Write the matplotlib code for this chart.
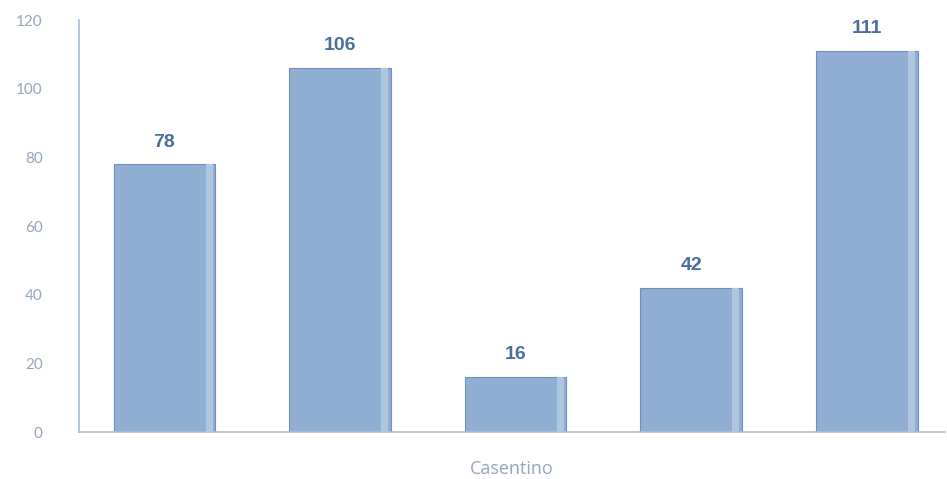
import matplotlib.pyplot as plt
import numpy as np

# dati
categories = ["a", "b", "c", "d", "e"]
values = [78, 106, 16, 42, 111]
yticks = [0, 20, 40, 60, 80, 100, 120]
xlabel = "Casentino"

bar_color = "#91afd2"
edge_dark = "#6f8fb8"
light_strip = "#afc6e0"
axis_color = "#a9bcd3"
tick_color = "#97a6bd"
label_color = "#4c6e9c"

fig = plt.figure(figsize=(9.47, 4.79), dpi=100)
ax = fig.add_axes([0.0834, 0.098, 0.9146, 0.860])

x = np.arange(len(categories))
width = 0.58

ax.bar(x, values, width=width, color=bar_color, edgecolor=edge_dark, linewidth=0.8, zorder=2)
# striscia chiara sul lato destro delle barre
ax.bar(x + width / 2 - 0.035, values, width=0.04, color=light_strip, linewidth=0, zorder=3)

for xi, v in zip(x, values):
    ax.text(xi, v + 4, str(v), ha="center", va="bottom", fontsize=14, fontweight="bold",
            color=label_color, family="Liberation Sans")

ax.set_xlim(-0.487, 4.447)
ax.set_ylim(0, 120)
ax.set_yticks(yticks)
ax.set_yticklabels([str(t) for t in yticks], fontsize=11, color=tick_color, family="Lato")
ax.set_xticks([])
ax.set_xlabel(xlabel, fontsize=13, color=tick_color, family="Open Sans", labelpad=20)

ax.tick_params(axis="y", length=0, pad=26)
for side in ["top", "right"]:
    ax.spines[side].set_visible(False)
ax.spines["left"].set_color(axis_color)
ax.spines["bottom"].set_color(axis_color)
ax.spines["left"].set_linewidth(1.2)
ax.spines["bottom"].set_linewidth(1.2)

fig.savefig("out.png", dpi=100)
